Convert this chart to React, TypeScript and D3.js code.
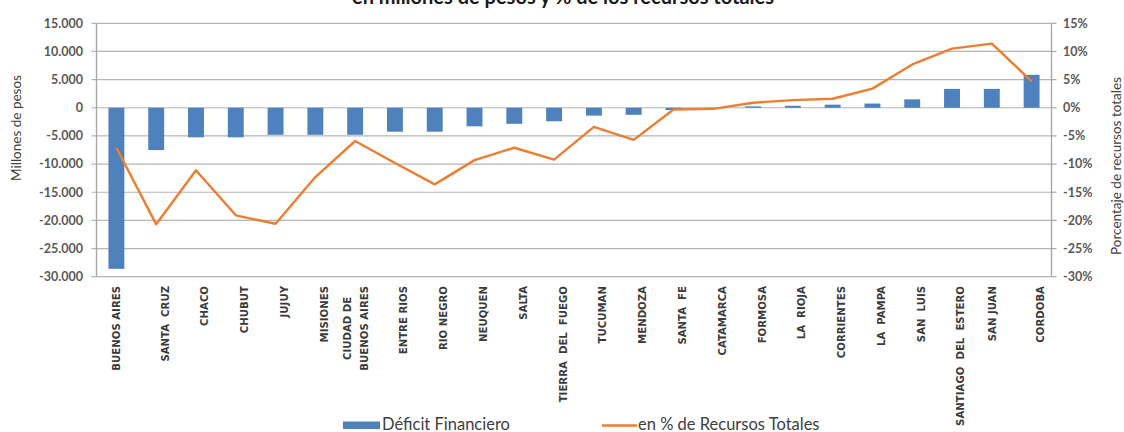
import React, { useEffect, useRef } from 'react';
import * as d3 from 'd3';

const provinces = ['BUENOS AIRES', 'SANTA CRUZ', 'CHACO', 'CHUBUT', 'JUJUY', 'MISIONES', 'CIUDAD DE BUENOS AIRES', 'ENTRE RIOS', 'RIO NEGRO', 'NEUQUEN', 'SALTA', 'TIERRA DEL FUEGO', 'TUCUMAN', 'MENDOZA', 'SANTA FE', 'CATAMARCA', 'FORMOSA', 'LA RIOJA', 'CORRIENTES', 'LA PAMPA', 'SAN LUIS', 'SANTIAGO DEL ESTERO', 'SAN JUAN', 'CORDOBA'];

const provinceLabels: string[][] = [
  ['BUENOS AIRES'], ['', 'SANTA  CRUZ'], ['', 'CHACO'], ['', 'CHUBUT'], ['', 'JUJUY'], ['', 'MISIONES'],
  ['CIUDAD DE', 'BUENOS AIRES'], ['', 'ENTRE RIOS'], ['', 'RIO NEGRO'], ['', 'NEUQUEN'], ['', 'SALTA'],
  ['', 'TIERRA  DEL  FUEGO'], ['', 'TUCUMAN'], ['', 'MENDOZA'], ['', 'SANTA  FE'], ['', 'CATAMARCA'],
  ['', 'FORMOSA'], ['', 'LA  RIOJA'], ['', 'CORRIENTES'], ['', 'LA  PAMPA'], ['', 'SAN  LUIS'],
  ['', 'SANTIAGO  DEL  ESTERO'], ['SAN JUAN'], ['', 'CORDOBA'],
];

// Déficit financiero, millones de pesos
const deficit = [-28600, -7500, -5250, -5250, -4800, -4800, -4800, -4250, -4250, -3300, -2850, -2400, -1400, -1250, -400, -150, 250, 350, 550, 750, 1500, 3350, 3350, 5850];

// en % de recursos totales
const pctRecursos = [-0.071, -0.207, -0.111, -0.191, -0.206, -0.123, -0.059, -0.098, -0.136, -0.093, -0.071, -0.092, -0.034, -0.057, -0.003, -0.002, 0.009, 0.0135, 0.016, 0.034, 0.077, 0.105, 0.114, 0.047];

const leftTicks = [15000, 10000, 5000, 0, -5000, -10000, -15000, -20000, -25000, -30000];
const rightTicks = [0.15, 0.10, 0.05, 0, -0.05, -0.10, -0.15, -0.20, -0.25, -0.30];

const titleText = 'en millones de pesos y % de los recursos totales';
const leftAxisTitle = 'Millones de pesos';
const rightAxisTitle = 'Porcentaje de recursos totales';
const legendBar = 'Déficit Financiero';
const legendLine = 'en % de Recursos Totales';

const W = 1124;
const H = 432;
const BLUE = '#4f81bd';
const ORANGE = '#ed7d31';
const FONT = 'Lato, "Open Sans", sans-serif';

export default function App() {
  const ref = useRef<SVGSVGElement | null>(null);

  useEffect(() => {
    const svg = d3.select(ref.current);
    svg.selectAll('*').remove();

    const locale = d3.formatLocale({ decimal: ',', thousands: '.', grouping: [3], currency: ['$', ''], minus: '-' });
    const fmtLeft = locale.format(',');
    const fmtRight = locale.format('.0%');

    const x = d3.scaleBand<string>().domain(provinces).range([96.5, 1051.5]).paddingInner(0).paddingOuter(0);
    const yL = d3.scaleLinear().domain([-30000, 15000]).range([276.7, 23.3]);
    const yR = d3.scaleLinear().domain([-0.30, 0.15]).range([276.7, 23.3]);
    const left = 96.5;
    const right = 1051.5;

    // title (mostly cut off at top)
    svg.append('text')
      .attr('x', 563).attr('y', 3.5)
      .attr('text-anchor', 'middle')
      .attr('font-family', FONT).attr('font-weight', 700).attr('font-size', 20)
      .attr('fill', '#1a1a1a')
      .text(titleText);

    // gridlines
    svg.append('g').selectAll('line').data(leftTicks).join('line')
      .attr('x1', left - 5).attr('x2', right)
      .attr('y1', (d) => yL(d)).attr('y2', (d) => yL(d))
      .attr('stroke', '#b5b5b5').attr('stroke-width', 1.2);

    // right ticks
    svg.append('g').selectAll('line').data(rightTicks).join('line')
      .attr('x1', right).attr('x2', right + 5)
      .attr('y1', (d) => yR(d)).attr('y2', (d) => yR(d))
      .attr('stroke', '#a6a6a6').attr('stroke-width', 1.2);

    // axis lines
    svg.append('line').attr('x1', left).attr('x2', left).attr('y1', yL(15000)).attr('y2', yL(-30000))
      .attr('stroke', '#a6a6a6').attr('stroke-width', 1.4);
    svg.append('line').attr('x1', right).attr('x2', right).attr('y1', yR(0.15)).attr('y2', yR(-0.30))
      .attr('stroke', '#a6a6a6').attr('stroke-width', 1.4);

    // left tick labels
    svg.append('g').selectAll('text').data(leftTicks).join('text')
      .attr('x', 83).attr('y', (d) => yL(d))
      .attr('dy', '0.35em').attr('text-anchor', 'end')
      .attr('font-family', FONT).attr('font-weight', 700).attr('font-size', 12.5)
      .attr('fill', '#595959')
      .text((d) => fmtLeft(d));

    // right tick labels
    svg.append('g').selectAll('text').data(rightTicks).join('text')
      .attr('x', 1063).attr('y', (d) => yR(d))
      .attr('dy', '0.35em').attr('text-anchor', 'start')
      .attr('font-family', FONT).attr('font-weight', 700).attr('font-size', 12.5)
      .attr('fill', '#595959')
      .text((d) => fmtRight(d));

    // axis titles
    svg.append('text')
      .attr('transform', `translate(21,128) rotate(-90)`)
      .attr('text-anchor', 'middle')
      .attr('font-family', FONT).attr('font-size', 13.5).attr('fill', '#404040')
      .text(leftAxisTitle);
    svg.append('text')
      .attr('transform', `translate(1121,166) rotate(-90)`)
      .attr('text-anchor', 'middle')
      .attr('font-family', FONT).attr('font-size', 13.5).attr('fill', '#404040')
      .text(rightAxisTitle);

    // bars
    const bw = x.bandwidth() * 0.4;
    svg.append('g').selectAll('rect').data(provinces).join('rect')
      .attr('x', (d) => (x(d) as number) + x.bandwidth() / 2 - bw / 2)
      .attr('width', bw)
      .attr('y', (d, i) => Math.min(yL(deficit[i]), yL(0)))
      .attr('height', (d, i) => Math.abs(yL(deficit[i]) - yL(0)))
      .attr('fill', BLUE);

    // line
    const line = d3.line<number>()
      .x((d, i) => (x(provinces[i]) as number) + x.bandwidth() / 2)
      .y((d) => yR(d));
    svg.append('path').datum(pctRecursos)
      .attr('d', line)
      .attr('fill', 'none').attr('stroke', ORANGE).attr('stroke-width', 2.4)
      .attr('stroke-linejoin', 'round');

    // category labels
    const LH = 17;
    const labelTop = 286;
    const lg = svg.append('g');
    provinces.forEach((p, i) => {
      const cx = (x(p) as number) + x.bandwidth() / 2;
      const lines = provinceLabels[i];
      const g = lg.append('g').attr('transform', `translate(${cx},${labelTop}) rotate(-90)`);
      const texts = lines.map((ln, j) =>
        g.append('text')
          .attr('x', 0)
          .attr('y', (j - (lines.length - 1) / 2) * LH)
          .attr('dy', '0.35em')
          .attr('text-anchor', 'end')
          .attr('font-family', '"Liberation Sans Narrow", "DejaVu Sans Condensed", sans-serif')
          .attr('font-stretch', 'condensed')
          .attr('font-weight', 700).attr('font-size', 11.3)
          .attr('fill', '#3a3a3a')
          .style('white-space', 'pre')
          .text(ln)
      );
      const lens = texts.map((t) => (t.node() as SVGTextElement).getComputedTextLength());
      const maxLen = Math.max(...lens);
      texts.forEach((t) => {
        t.attr('text-anchor', 'middle').attr('x', -maxLen / 2);
      });
    });

    // legend
    svg.append('rect').attr('x', 343).attr('y', 421.5).attr('width', 37).attr('height', 7.5).attr('fill', BLUE);
    svg.append('text').attr('x', 382).attr('y', 430)
      .attr('font-family', FONT).attr('font-size', 16.5).attr('fill', '#404040').text(legendBar);
    svg.append('line').attr('x1', 602).attr('x2', 637).attr('y1', 425.5).attr('y2', 425.5)
      .attr('stroke', ORANGE).attr('stroke-width', 2.4);
    svg.append('text').attr('x', 638).attr('y', 430)
      .attr('font-family', FONT).attr('font-size', 16.5).attr('fill', '#404040').text(legendLine);
  }, []);

  return (
    <svg
      ref={ref}
      width={W}
      height={H}
      viewBox={`0 0 ${W} ${H}`}
      style={{ position: 'absolute', left: 0, top: 0, background: '#ffffff' }}
    />
  );
}
